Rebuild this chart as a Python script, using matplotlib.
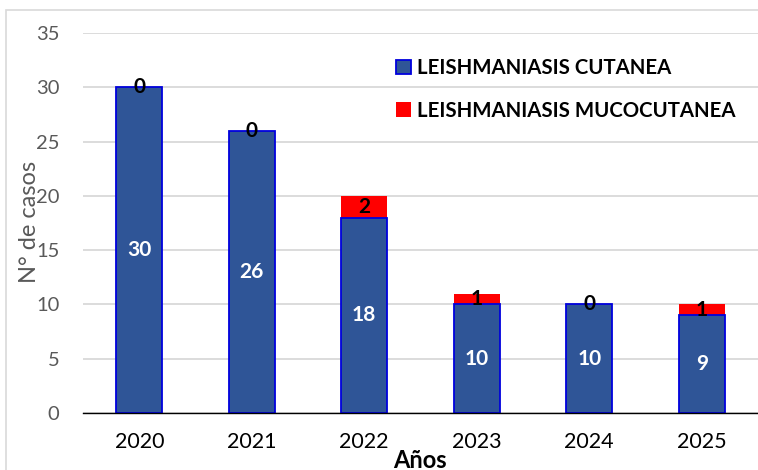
import numpy as np
import matplotlib.pyplot as plt
from matplotlib.patches import Rectangle

# data
years = ['2020', '2021', '2022', '2023', '2024', '2025']
cutanea = [30, 26, 18, 10, 10, 9]
mucocutanea = [0, 0, 2, 1, 0, 1]

plt.rcParams['font.family'] = ['Lato', 'DejaVu Sans']

fig = plt.figure(figsize=(7.58, 4.70), dpi=100)
ax = fig.add_axes([83 / 758, 1 - 413 / 470, 1 - 83 / 758, 380 / 470])

# light gray chart border
fig.patches.append(Rectangle((6 / 758, -0.1), 1.2, 1 - 10 / 470 + 0.1,
                             transform=fig.transFigure, fill=False,
                             edgecolor='#D9D9D9', linewidth=1.2, zorder=0))

x = np.arange(len(years))
w = 0.41
b1 = ax.bar(x, cutanea, w, color='#2F5597', edgecolor='#0000DD', linewidth=1.3,
            label='LEISHMANIASIS CUTANEA', zorder=3)
b2 = ax.bar(x, mucocutanea, w, bottom=cutanea, color='#FF0000', linewidth=0,
            label='LEISHMANIASIS MUCOCUTANEA', zorder=2)

ax.bar_label(b1, label_type='center', color='white', fontsize=15, fontweight='bold')
ax.bar_label(b2, label_type='center', color='black', fontsize=15, fontweight='bold')
for t in ax.texts:
    t.set_zorder(5)

ax.set_xlim(-0.5, 5.5)
ax.set_ylim(0, 35)
ax.set_yticks(range(0, 36, 5))
ax.set_xticks(x)
ax.set_xticklabels(years)
ax.tick_params(axis='x', length=0, labelsize=15.5, labelcolor='black', pad=14)
ax.tick_params(axis='y', length=0, labelsize=14.5, labelcolor='#595959', pad=17)

ax.yaxis.grid(True, color='#D9D9D9', linewidth=1.3, zorder=0)
ax.set_axisbelow(True)
for s in ['top', 'right', 'left']:
    ax.spines[s].set_visible(False)
ax.spines['bottom'].set_color('black')
ax.spines['bottom'].set_linewidth(1.0)
ax.spines['bottom'].set_zorder(4)

fig.text(29 / 758, 1 - 222 / 470, 'N° de casos', rotation=90, ha='center', va='center',
         fontsize=17, color='#595959')
fig.text(420 / 758, 1 - 449 / 470, 'Años', ha='center', va='top',
         fontsize=17, fontweight='bold', color='black')

leg = ax.legend(loc='upper left', bbox_to_anchor=(396 / 758, 1 - 58 / 470),
                bbox_transform=fig.transFigure, frameon=False, fontsize=14.7,
                handlelength=0.72, handleheight=0.72, handletextpad=0.3,
                labelspacing=1.12, borderpad=0, borderaxespad=0)
for t in leg.get_texts():
    t.set_fontweight('bold')

fig.savefig('out.png', dpi=100)
